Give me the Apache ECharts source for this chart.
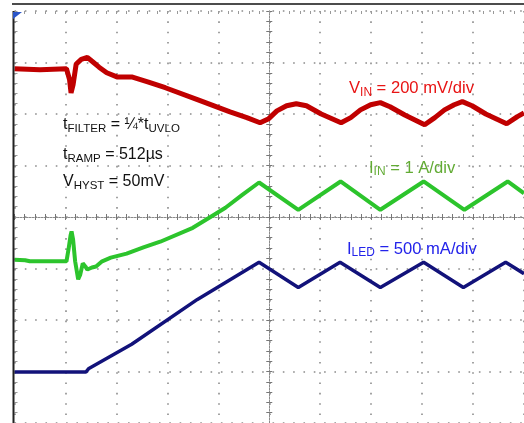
<!DOCTYPE html>
<html><head><meta charset="utf-8">
<script src="https://cdn.jsdelivr.net/npm/echarts@6/dist/echarts.min.js"></script>
<style>html,body{margin:0;padding:0;background:#fff;overflow:hidden}#c{width:524px;height:423px;}</style>
</head><body><div id="c"></div>
<script>
// time axis in divisions (centre = 0), values in divisions (centre = 0)
const vinTime = [-5.0, -4.5, -3.98, -3.92, -3.89, -3.85, -3.79, -3.69, -3.57, -3.46, -3.34, -3.19, -2.99, -2.70, -2.37, -2.04, -1.41, -0.77, -0.44, -0.18, -0.01, 0.15, 0.34, 0.53, 0.73, 1.02, 1.41, 1.60, 1.79, 1.99, 2.18, 2.37, 2.66, 3.05, 3.25, 3.44, 3.63, 3.79, 3.98, 4.25, 4.66, 4.87, 5.0];
const vinDiv  = [2.88, 2.86, 2.88, 2.67, 2.41, 2.57, 2.97, 3.06, 3.10, 3.01, 2.91, 2.80, 2.72, 2.72, 2.62, 2.51, 2.28, 2.04, 1.93, 1.83, 1.91, 2.06, 2.16, 2.20, 2.16, 2.00, 1.83, 1.93, 2.08, 2.18, 2.22, 2.14, 1.98, 1.79, 1.93, 2.08, 2.18, 2.24, 2.16, 2.00, 1.81, 1.95, 2.02];
const iinTime = [-5.0, -4.79, -4.70, -3.98, -3.94, -3.90, -3.88, -3.85, -3.81, -3.75, -3.71, -3.66, -3.61, -3.57, -3.48, -3.40, -3.28, -3.11, -2.80, -2.47, -2.14, -1.50, -1.17, -0.86, -0.53, -0.20, 0.57, 1.40, 2.18, 3.03, 3.83, 4.68, 5.0];
const iinDiv  = [-0.83, -0.84, -0.86, -0.86, -0.63, -0.36, -0.28, -0.44, -0.86, -1.21, -1.12, -0.90, -0.96, -1.02, -0.98, -0.96, -0.86, -0.79, -0.71, -0.59, -0.48, -0.21, -0.01, 0.18, 0.43, 0.67, 0.14, 0.69, 0.14, 0.69, 0.14, 0.69, 0.46];
const iledTime = [-5.0, -3.60, -3.54, -2.70, -1.41, -0.20, 0.57, 1.39, 2.18, 3.03, 3.81, 4.64, 5.0];
const iledDiv  = [-3.01, -3.01, -2.94, -2.47, -1.60, -0.88, -1.37, -0.88, -1.37, -0.88, -1.37, -0.88, -1.10];

const F = "'Liberation Sans', Arial, sans-serif";
const chart = echarts.init(document.getElementById('c'), null, {renderer: 'canvas'});
const pairs = (t, v) => t.map((x, i) => [x, v[i]]);

const gridDots = {show: true, lineStyle: {color: '#8c8c8c', width: 1.6, type: [1.6, 8.72], opacity: 1}};
const centreAxis = (pos, idx, isX) => ({
  type: 'value', min: isX ? -5 : -4, max: isX ? 5 : 4, interval: 1, position: pos,
  axisLine: {show: true, onZero: true, onZeroAxisIndex: 0, lineStyle: {color: '#8a8a8a', width: 1, type: [1.5, 1.5]}},
  axisTick: {show: true, length: 3, inside: false, lineStyle: {color: '#777'}},
  minorTick: {show: true, splitNumber: 5, length: 3, lineStyle: {color: '#777'}},
  axisLabel: {show: false},
  splitLine: idx === 0 ? gridDots : {show: false}
});
const edgeAxis = (pos, isX) => ({
  type: 'value', min: isX ? -5 : -4, max: isX ? 5 : 4, interval: 1, position: pos,
  axisLine: {show: false, onZero: false},
  axisTick: {show: true, length: 3, inside: true, lineStyle: {color: '#999'}},
  minorTick: {show: true, splitNumber: 5, length: 3, lineStyle: {color: '#999'}},
  axisLabel: {show: false}, splitLine: {show: false}
});

function label(x, y, text, color, fs) {
  const main = {fontSize: fs, lineHeight: 20, fontFamily: F, fill: color};
  const sub = {fontSize: fs * 0.72, lineHeight: fs * 0.72, verticalAlign: 'bottom', fontFamily: F, fill: color};
  return {type: 'text', z: 100, style: {x: x, y: y, text: text, align: 'left', verticalAlign: 'top',
    fill: color, font: fs + 'px ' + F, rich: {m: main, s: sub}}};
}

chart.setOption({
  animation: false,
  backgroundColor: '#fff',
  grid: {left: 14.5, top: 11, width: 516, height: 413},
  xAxis: [centreAxis('bottom', 0, true), centreAxis('top', 1, true), edgeAxis('top', true)],
  yAxis: [centreAxis('left', 0, false), centreAxis('right', 1, false), edgeAxis('left', false)],
  series: [
    {name: 'VIN', type: 'line', data: pairs(vinTime, vinDiv), showSymbol: false, xAxisIndex: 0, yAxisIndex: 0,
      lineStyle: {color: '#c00000', width: 5}, itemStyle: {color: '#c00000'}, z: 5},
    {name: 'IIN', type: 'line', data: pairs(iinTime, iinDiv), showSymbol: false, xAxisIndex: 0, yAxisIndex: 0,
      lineStyle: {color: '#2cc42c', width: 4}, itemStyle: {color: '#2cc42c'}, z: 5},
    {name: 'ILED', type: 'line', data: pairs(iledTime, iledDiv), showSymbol: false, xAxisIndex: 0, yAxisIndex: 0,
      lineStyle: {color: '#12127a', width: 3.5}, itemStyle: {color: '#12127a'}, z: 5}
  ],
  graphic: [
    {type: 'line', z: 50, shape: {x1: 12, y1: 4, x2: 524, y2: 4}, style: {stroke: '#111', lineWidth: 1.5}},
    {type: 'line', z: 50, shape: {x1: 13.5, y1: 11, x2: 13.5, y2: 423}, style: {stroke: '#222', lineWidth: 2}},
    {type: 'polygon', z: 60, shape: {points: [[13, 12], [22, 12], [13, 19]]}, style: {fill: '#2a55c8'}},
    label(63, 115, '{m|t}{s|FILTER}{m| = ¼*t}{s|UVLO}', '#111', 16),
    label(63, 145, '{m|t}{s|RAMP}{m| = 512µs}', '#111', 16),
    label(63, 172, '{m|V}{s|HYST}{m| = 50mV}', '#111', 16),
    label(349, 78.5, '{m|V}{s|IN}{m| = 200 mV/div}', '#e81414', 16.6),
    label(369, 158, '{m|I}{s|IN}{m| = 1 A/div}', '#62ab34', 16.6),
    label(347, 239, '{m|I}{s|LED}{m| = 500 mA/div}', '#2323ea', 16.6)
  ]
});
</script></body></html>
